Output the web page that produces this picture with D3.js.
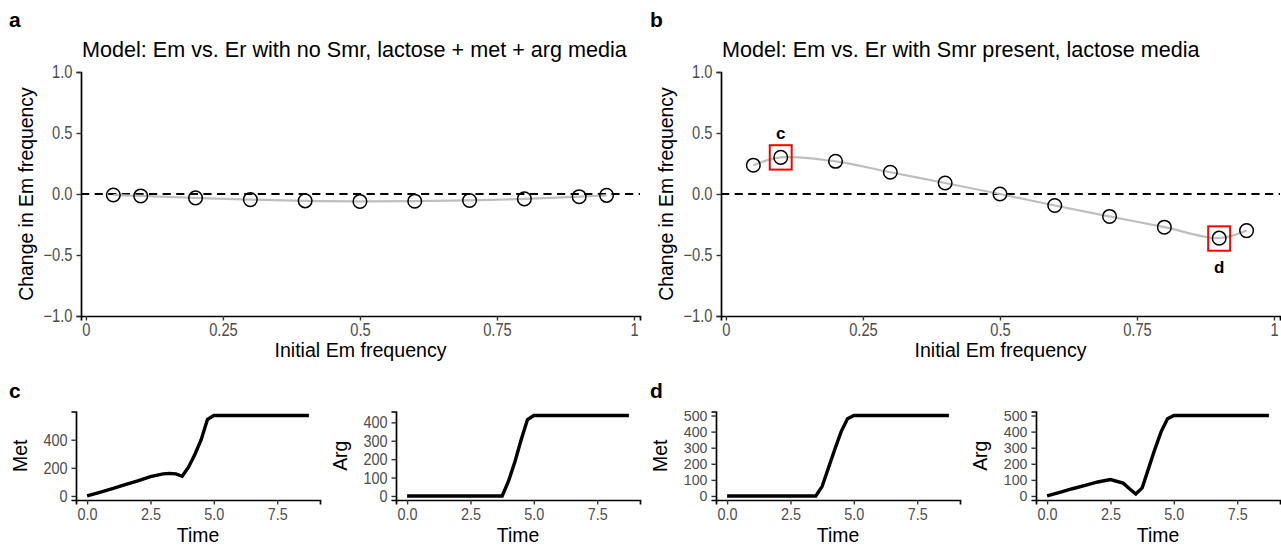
<!DOCTYPE html>
<html>
<head>
<meta charset="utf-8">
<script src="https://cdn.jsdelivr.net/npm/d3@7"></script>
<style>
  body { margin: 0; background: #fff; }
  text { font-family: "Liberation Sans", Arial, sans-serif; }
</style>
</head>
<body>
<script>
// data
let initFreq = [0.05, 0.1, 0.2, 0.3, 0.4, 0.5, 0.6, 0.7, 0.8, 0.9, 0.95];
let changeNoSmr = [-0.008, -0.016, -0.032, -0.046, -0.056, -0.061, -0.059, -0.053, -0.040, -0.022, -0.011];
let changeSmr = [0.236, 0.300, 0.268, 0.178, 0.090, 0.000, -0.094, -0.184, -0.272, -0.362, -0.300];
let freqTicks = [0, 0.25, 0.5, 0.75, 1];
let freqTickLabels = ["0", "0.25", "0.5", "0.75", "1"];
let changeTicks = [-1, -0.5, 0, 0.5, 1];

// highlighted points (c and d)
let boxes = [
  {label: "c", x: 0.1, y: 0.30, labelY: 0.5},
  {label: "d", x: 0.9, y: -0.365, labelY: -0.6}
];

let time = [0, 0.5, 1, 1.5, 2, 2.5, 3, 3.25, 3.5, 3.75, 4, 4.25, 4.5, 4.75, 5, 8.75];
let metC = [0, 25, 52, 80, 108, 138, 157, 161, 157, 140, 205, 295, 400, 545, 572, 572];
let argC = [0, 0, 0, 0, 0, 0, 0, 0, 0, 0, 80, 185, 305, 415, 437, 437];
let metD = [0, 0, 0, 0, 0, 0, 0, 0, 0, 60, 175, 290, 400, 480, 500, 500];
let argD = [0, 22, 45, 66, 87, 102, 80, 45, 12, 50, 170, 290, 400, 480, 500, 500];
let timeTicks = [0, 2.5, 5, 7.5];

let W = 1281, H = 545;

let svg = d3.select("body").append("svg")
  .attr("width", W)
  .attr("height", H);

function panelLabel(txt, x, y) {
  svg.append("text")
    .attr("x", x).attr("y", y)
    .style("font-size", "21px")
    .attr("font-weight", "bold")
    .text(txt);
}

// tick labels in the figure are a bit condensed, so squeeze them sideways
function styleAxis(g, isY, size, squeeze) {
  g.select(".domain").attr("stroke", "#000").attr("stroke-width", 1.7);
  g.selectAll(".tick line").attr("stroke", "#333").attr("stroke-width", 1.4);
  let t = g.selectAll(".tick text")
    .attr("fill", "#4d4d4d")
    .style("font-size", size + "px")
    .style("font-family", "'Liberation Sans', Arial, sans-serif")
    .attr("transform", "scale(" + squeeze + ",1)");
  if (isY) t.attr("x", -8.5 / squeeze);
}

// top panels: change in frequency vs initial frequency
function freqPanel(left, title, values, withBoxes) {
  let top = 72, bottom = 316, right = left + 559;
  let x = d3.scaleLinear().domain([-0.009, 1.011]).range([left, right]);
  let y = d3.scaleLinear().domain([-1, 1]).range([bottom, top]);
  let pts = initFreq.map((f, i) => ({x: f, y: values[i]}));

  svg.append("text")
    .attr("x", left + 1).attr("y", 57)
    .style("font-size", "21.6px")
    .text(title);

  // dashed zero line
  svg.append("line")
    .attr("x1", left).attr("x2", right)
    .attr("y1", y(0)).attr("y2", y(0))
    .attr("stroke", "#000")
    .attr("stroke-width", 2)
    .attr("stroke-dasharray", "8.2,5.4");

  // smooth grey line
  let line = d3.line()
    .x(d => x(d.x))
    .y(d => y(d.y))
    .curve(d3.curveCatmullRom);
  svg.append("path")
    .datum(pts)
    .attr("d", line)
    .attr("fill", "none")
    .attr("stroke", "#bebebe")
    .attr("stroke-width", 2.2);

  svg.append("g").selectAll("circle")
    .data(pts)
    .enter().append("circle")
    .attr("cx", d => x(d.x))
    .attr("cy", d => y(d.y))
    .attr("r", 6.8)
    .attr("fill", "none")
    .attr("stroke", "#000")
    .attr("stroke-width", 1.5);

  if (withBoxes) {
    boxes.forEach(b => {
      svg.append("rect")
        .attr("x", x(b.x - 0.02))
        .attr("y", y(b.y + 0.1))
        .attr("width", x(b.x + 0.02) - x(b.x - 0.02))
        .attr("height", y(b.y - 0.1) - y(b.y + 0.1))
        .attr("fill", "none")
        .attr("stroke", "#ff0000")
        .attr("stroke-width", 2);
      svg.append("text")
        .attr("x", x(b.x)).attr("y", y(b.labelY))
        .attr("dy", "0.35em")
        .attr("text-anchor", "middle")
        .style("font-size", "17px")
        .attr("font-weight", "bold")
        .text(b.label);
    });
  }

  let gx = svg.append("g")
    .attr("transform", "translate(0," + bottom + ")")
    .call(d3.axisBottom(x).tickValues(freqTicks)
      .tickFormat((d, i) => freqTickLabels[i]).tickSizeOuter(0).tickSize(4.5).tickPadding(3));
  styleAxis(gx, false, 17.5, 0.84);

  let gy = svg.append("g")
    .attr("transform", "translate(" + left + ",0)")
    .call(d3.axisLeft(y).tickValues(changeTicks)
      .tickFormat(d => d3.format(".1f")(d).replace("-", "\u2212")).tickSizeOuter(0).tickSize(4.5).tickPadding(3));
  styleAxis(gy, true, 17.5, 0.84);

  svg.append("text")
    .attr("x", (left + right) / 2).attr("y", 357)
    .attr("text-anchor", "middle")
    .style("font-size", "19.6px")
    .text("Initial Em frequency");

  svg.append("text")
    .attr("transform", "translate(" + (left - 48) + "," + ((top + bottom) / 2) + ") rotate(-90)")
    .attr("text-anchor", "middle")
    .style("font-size", "19.4px")
    .text("Change in Em frequency");
}

// bottom panels: metabolite over time
function timePanel(left, label, values, yMax, yTicks) {
  let top = 411.5, bottom = 500, right = left + 244;
  let pad = 8.75 * 0.05;
  let x = d3.scaleLinear().domain([-pad, 8.75 + pad]).range([left, right]);
  let y = d3.scaleLinear().domain([-yMax * 0.05, yMax * 1.05]).range([bottom, top]);
  let pts = time.map((t, i) => ({t: t, v: values[i]}));

  svg.append("path")
    .datum(pts)
    .attr("d", d3.line().x(d => x(d.t)).y(d => y(d.v)))
    .attr("fill", "none")
    .attr("stroke", "#000")
    .attr("stroke-width", 3.4);

  let gx = svg.append("g")
    .attr("transform", "translate(0," + bottom + ")")
    .call(d3.axisBottom(x).tickValues(timeTicks)
      .tickFormat(d3.format(".1f")).tickSizeOuter(0).tickSize(4.5).tickPadding(3));
  styleAxis(gx, false, 17, 0.85);

  let gy = svg.append("g")
    .attr("transform", "translate(" + left + ",0)")
    .call(d3.axisLeft(y).tickValues(yTicks)
      .tickFormat(d3.format("d")).tickSizeOuter(0).tickSize(4.5).tickPadding(3));
  styleAxis(gy, true, yTicks.length > 5 ? 14.2 : 17, yTicks.length > 5 ? 1 : 0.85);

  svg.append("text")
    .attr("x", (left + right) / 2).attr("y", 542)
    .attr("text-anchor", "middle")
    .style("font-size", "19.4px")
    .text("Time");

  svg.append("text")
    .attr("transform", "translate(" + (left - 49) + "," + ((top + bottom) / 2) + ") rotate(-90)")
    .attr("text-anchor", "middle")
    .style("font-size", "19.4px")
    .text(label);
}

panelLabel("a", 9, 27);
panelLabel("b", 650, 27);
panelLabel("c", 9, 398);
panelLabel("d", 650, 398);

freqPanel(81, "Model: Em vs. Er with no Smr, lactose + met + arg media", changeNoSmr, false);
freqPanel(721, "Model: Em vs. Er with Smr present, lactose media", changeSmr, true);

timePanel(76, "Met", metC, 572, [0, 200, 400]);
timePanel(396, "Arg", argC, 437, [0, 100, 200, 300, 400]);
timePanel(716, "Met", metD, 500, [0, 100, 200, 300, 400, 500]);
timePanel(1036, "Arg", argD, 500, [0, 100, 200, 300, 400, 500]);
</script>
</body>
</html>
